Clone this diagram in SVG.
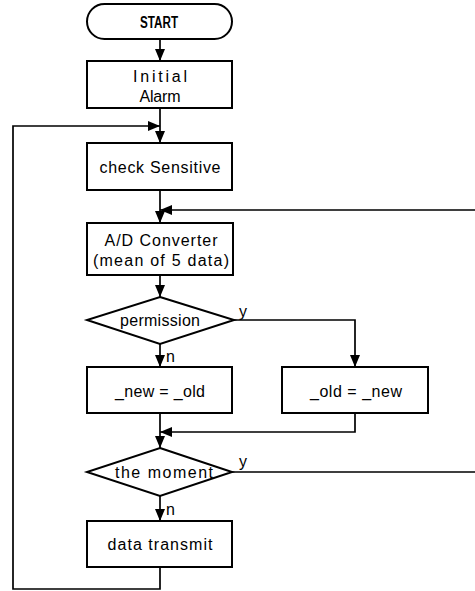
<svg xmlns="http://www.w3.org/2000/svg" width="475" height="591" viewBox="0 0 475 591">
<defs>
<marker id="ah" viewBox="0 0 12 10" refX="12" refY="5" markerWidth="12" markerHeight="10" markerUnits="userSpaceOnUse" orient="auto">
<path d="M0,0 L12,5 L0,10 Z" fill="#000"/>
</marker>
<style>
.box{fill:#fff;stroke:#000;stroke-width:2}
.t{font-family:"Liberation Sans","DejaVu Sans",sans-serif;font-size:16px;fill:#000;text-anchor:middle;dominant-baseline:central}
.lbl{font-family:"Liberation Sans","DejaVu Sans",sans-serif;font-size:16px;fill:#000}
.c{fill:none;stroke:#000;stroke-width:1.7}
</style>
</defs>
<rect width="475" height="591" fill="#fff"/>
<g id="connectors">
<path class="c" d="M160,39 V61" marker-end="url(#ah)"/>
<path class="c" d="M160,108 V143" marker-end="url(#ah)"/>
<path class="c" d="M160,567 V589 H13 V126 H160" marker-end="url(#ah)"/>
<path class="c" d="M160,190 V223" marker-end="url(#ah)"/>
<path class="c" d="M232,472 H480 V210 H160" marker-end="url(#ah)"/>
<path class="c" d="M160,275 V297" marker-end="url(#ah)"/>
<path class="c" d="M160,344 V367" marker-end="url(#ah)"/>
<path class="c" d="M234,320 H355 V367" marker-end="url(#ah)"/>
<path class="c" d="M355,413 V432 H160" marker-end="url(#ah)"/>
<path class="c" d="M160,413 V448" marker-end="url(#ah)"/>
<path class="c" d="M160,496 V521" marker-end="url(#ah)"/>
<text class="lbl" x="239" y="317">y</text>
<text class="lbl" x="166" y="362">n</text>
<text class="lbl" x="239" y="467">y</text>
<text class="lbl" x="166" y="515">n</text>
</g>
<g id="start">
<rect class="box" x="87" y="4" width="145" height="35" rx="17.5"/>
<text class="t" x="159" y="22" textLength="38" lengthAdjust="spacingAndGlyphs" font-size="15" font-weight="bold">START</text>
</g>
<g id="initial">
<rect class="box" x="87" y="61" width="145" height="47"/>
<text class="t" x="160" y="76" textLength="54" lengthAdjust="spacing">Initial</text>
<text class="t" x="160" y="96" textLength="41" lengthAdjust="spacing">Alarm</text>
</g>
<g id="check">
<rect class="box" x="87" y="143" width="145" height="47"/>
<text class="t" x="160" y="167" textLength="121" lengthAdjust="spacing">check Sensitive</text>
</g>
<g id="adc">
<rect class="box" x="87" y="223" width="146" height="52"/>
<text class="t" x="161" y="240" textLength="113" lengthAdjust="spacing">A/D Converter</text>
<text class="t" x="161" y="260" textLength="136" lengthAdjust="spacing">(mean of 5 data)</text>
</g>
<g id="permission">
<polygon class="box" points="160,297 234,320 160,344 87,320"/>
<text class="t" x="160" y="320" textLength="80" lengthAdjust="spacing">permission</text>
</g>
<g id="newold">
<rect class="box" x="87" y="367" width="145" height="46"/>
<text class="t" x="160" y="391" textLength="90" lengthAdjust="spacing">_new = _old</text>
</g>
<g id="oldnew">
<rect class="box" x="282" y="367" width="146" height="46"/>
<text class="t" x="356" y="391" textLength="92" lengthAdjust="spacing">_old = _new</text>
</g>
<g id="moment">
<polygon class="box" points="160,448 232,472 160,496 87,472"/>
<text class="t" x="164" y="472" textLength="98" lengthAdjust="spacing">the moment</text>
</g>
<g id="transmit">
<rect class="box" x="87" y="521" width="145" height="46"/>
<text class="t" x="160" y="544" textLength="105" lengthAdjust="spacing">data transmit</text>
</g>
</svg>
